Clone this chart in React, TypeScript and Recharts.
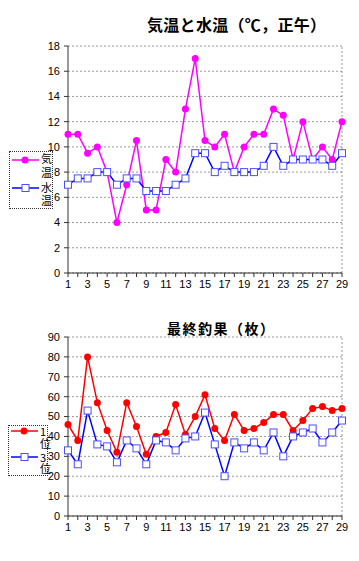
import React from 'react';
import { LineChart, Line, XAxis, YAxis, CartesianGrid, ReferenceLine } from 'recharts';

const days = [1, 2, 3, 4, 5, 6, 7, 8, 9, 10, 11, 12, 13, 14, 15, 16, 17, 18, 19, 20, 21, 22, 23, 24, 25, 26, 27, 28, 29];
const airTemp = [11, 11, 9.5, 10, 8, 4, 7, 10.5, 5, 5, 9, 8, 13, 17, 10.5, 10, 11, 8, 10, 11, 11, 13, 12.5, 9, 12, 9, 10, 9, 12];
const waterTemp = [7, 7.5, 7.5, 8, 8, 7, 7.5, 7.5, 6.5, 6.5, 6.5, 7, 7.5, 9.5, 9.5, 8, 8.5, 8, 8, 8, 8.5, 10, 8.5, 9, 9, 9, 9, 8.5, 9.5];
const rank1 = [46, 38, 80, 57, 43, 32, 57, 45, 31, 40, 42, 56, 41, 50, 61, 44, 38, 51, 43, 44, 47, 51, 51, 43, 48, 54, 55, 53, 54];
const rank3 = [33, 26, 53, 36, 35, 27, 38, 34, 26, 38, 37, 33, 39, 40, 52, 36, 20, 37, 34, 37, 33, 42, 30, 40, 42, 44, 37, 42, 48];
const tempTicks = [0, 2, 4, 6, 8, 10, 12, 14, 16, 18];
const catchTicks = [0, 10, 20, 30, 40, 50, 60, 70, 80, 90];

const tempData = days.map((d, i) => ({ day: d, air: airTemp[i], water: waterTemp[i] }));
const catchData = days.map((d, i) => ({ day: d, r1: rank1[i], r3: rank3[i] }));

const tickFont = { fontSize: 11, fill: '#000', fontFamily: 'Liberation Sans, Arial, sans-serif' };
const cjk = '"Noto Sans CJK JP", sans-serif';

const squareDot = (p: any) => {
  const { cx, cy, index } = p;
  if (cx == null || cy == null) return <g key={`sq-${index}`} />;
  return <rect key={`sq-${index}`} x={cx - 3.5} y={cy - 3.5} width={7} height={7} fill="#fff" stroke="#4d4dff" strokeWidth={1} />;
};

const oddFmt = (v: any) => (Number(v) % 2 === 1 ? String(v) : '');

function LegendBox(props: { left: number; top: number; width: number; height: number; items: { color: string; square: boolean; y: number; labels: { text: string; y: number }[] }[] }) {
  const { left, top, width, height, items } = props;
  return (
    <div style={{ position: 'absolute', left, top, width, height }}>
      <div style={{ position: 'absolute', left: 0, top: 0, width: width - 2, height: height - 2, border: '1px dotted #333', background: '#fff' }} />
      <svg style={{ position: 'absolute', left: 0, top: 0 }} width={width} height={height}>
        {items.map((it, i) => (
          <g key={i}>
            <line x1={3} x2={30} y1={it.y} y2={it.y} stroke={it.color} strokeWidth={1.5} />
            {it.square ? (
              <rect x={13} y={it.y - 3.5} width={7} height={7} fill="#fff" stroke="#4d4dff" />
            ) : (
              <circle cx={16} cy={it.y} r={3.5} fill={it.color} />
            )}
          </g>
        ))}
      </svg>
      {items.map((it, i) =>
        it.labels.map((l, j) => (
          <div key={`${i}-${j}`} style={{ position: 'absolute', left: 32, top: l.y - 7, fontSize: 11, lineHeight: '14px', fontFamily: cjk, color: '#000' }}>
            {l.text}
          </div>
        ))
      )}
    </div>
  );
}

export default function App() {
  return (
    <div style={{ position: 'absolute', left: 0, top: 0, width: 359, height: 561, background: '#fff', overflow: 'hidden' }}>
      <div style={{ position: 'absolute', left: 147, top: 15, fontSize: 16, lineHeight: '18px', fontWeight: 'bold', fontFamily: cjk, letterSpacing: 0.3, whiteSpace: 'nowrap' }}>
        気温と水温（℃，正午）
      </div>
      <div style={{ position: 'absolute', left: 0, top: 0 }}>
        <LineChart width={359} height={300} data={tempData} margin={{ top: 46, right: 17, left: 38, bottom: 2 }}>
          <CartesianGrid vertical={false} stroke="#999" strokeDasharray="2 2" />
          <ReferenceLine x={29} stroke="#999" strokeDasharray="2 2" />
          <XAxis dataKey="day" interval={0} tickFormatter={oddFmt} tickSize={4} tickMargin={3} height={25} tick={tickFont} stroke="#333" />
          <YAxis domain={[0, 18]} ticks={tempTicks} interval={0} tickSize={4} tickMargin={4} width={30} tick={tickFont} stroke="#333" />
          <Line dataKey="air" stroke="#ff00ff" strokeWidth={1.5} dot={{ r: 3.5, fill: '#ff00ff', stroke: '#ff00ff', strokeWidth: 0 }} isAnimationActive={false} />
          <Line dataKey="water" stroke="#0000ff" strokeWidth={1.5} dot={squareDot} isAnimationActive={false} />
        </LineChart>
      </div>
      <LegendBox
        left={9}
        top={151}
        width={44}
        height={58}
        items={[
          { color: '#ff00ff', square: false, y: 9, labels: [{ text: '気', y: 7 }, { text: '温', y: 21 }] },
          { color: '#0000ff', square: true, y: 37, labels: [{ text: '水', y: 36 }, { text: '温', y: 49 }] },
        ]}
      />
      <div style={{ position: 'absolute', left: 167, top: 320, fontSize: 14, lineHeight: '16px', fontWeight: 'bold', fontFamily: cjk, letterSpacing: 1.5, whiteSpace: 'nowrap' }}>
        最終釣果（枚）
      </div>
      <div style={{ position: 'absolute', left: 0, top: 290 }}>
        <LineChart width={359} height={255} data={catchData} margin={{ top: 47, right: 17, left: 38, bottom: 4 }}>
          <CartesianGrid vertical={false} stroke="#999" strokeDasharray="2 2" />
          <ReferenceLine x={29} stroke="#999" strokeDasharray="2 2" />
          <XAxis dataKey="day" interval={0} tickFormatter={oddFmt} tickSize={4} tickMargin={3} height={25} tick={tickFont} stroke="#333" />
          <YAxis domain={[0, 90]} ticks={catchTicks} interval={0} tickSize={4} tickMargin={4} width={30} tick={tickFont} stroke="#333" />
          <Line dataKey="r1" stroke="#ff0000" strokeWidth={1.5} dot={{ r: 3.5, fill: '#ff0000', stroke: '#ff0000', strokeWidth: 0 }} isAnimationActive={false} />
          <Line dataKey="r3" stroke="#0000ff" strokeWidth={1.5} dot={squareDot} isAnimationActive={false} />
        </LineChart>
      </div>
      <LegendBox
        left={8}
        top={425}
        width={40}
        height={51}
        items={[
          { color: '#ff0000', square: false, y: 6, labels: [{ text: '1', y: 6 }, { text: '位', y: 18 }] },
          { color: '#0000ff', square: true, y: 32, labels: [{ text: '3', y: 32 }, { text: '位', y: 43 }] },
        ]}
      />
    </div>
  );
}
